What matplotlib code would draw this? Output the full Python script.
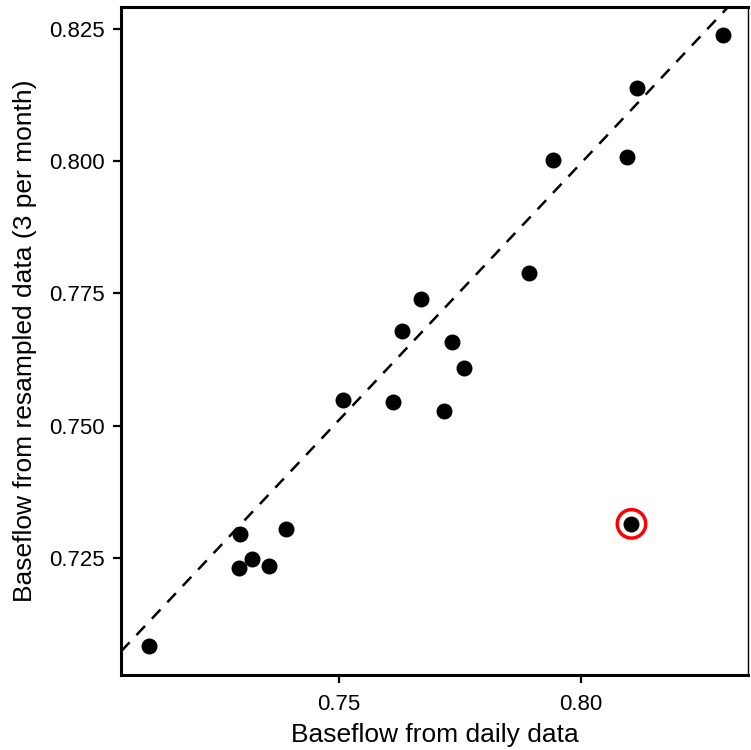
import matplotlib.pyplot as plt

plt.rcParams['font.family'] = ['Liberation Sans', 'DejaVu Sans']

# Baseflow index: daily data vs resampled (3 per month)
daily = [0.7107, 0.7296, 0.7294, 0.7319, 0.7356, 0.7391, 0.7508, 0.7611, 0.7630,
         0.7669, 0.7718, 0.7733, 0.7759, 0.7893, 0.7942, 0.8095, 0.8117, 0.8294, 0.8105]
resampled = [0.7083, 0.7295, 0.7231, 0.7248, 0.7235, 0.7305, 0.7549, 0.7544, 0.7678,
             0.7739, 0.7528, 0.7659, 0.7608, 0.7788, 0.8002, 0.8009, 0.8138, 0.8239, 0.7314]
outlier_x = [0.8105]
outlier_y = [0.7314]

# reference line (intercept, slope)
line_intercept = 0.0228
line_slope = 0.971

xticks = [0.75, 0.80]
yticks = [0.725, 0.750, 0.775, 0.800, 0.825]

fig = plt.figure(figsize=(7.51, 7.5), dpi=100)
ax = fig.add_axes([121 / 751, 1 - 675 / 750, 627 / 751, 668 / 750])

ax.axline((0, line_intercept), slope=line_slope, color='black',
          linestyle=(0, (5, 4)), linewidth=1.8, zorder=1)
ax.scatter(daily, resampled, s=110, color='black', zorder=3)
ax.scatter(outlier_x, outlier_y, s=420, facecolors='none', edgecolors='red', linewidths=2.5, zorder=2)

ax.set_xlim(0.7049, 0.8346)
ax.set_ylim(0.7028, 0.8292)
ax.set_xticks(xticks)
ax.set_xticklabels(['0.75', '0.80'])
ax.set_yticks(yticks)
ax.set_yticklabels(['0.725', '0.750', '0.775', '0.800', '0.825'])
ax.tick_params(labelsize=16, length=6, width=1.6, colors='black')
ax.tick_params(axis='x', pad=7.5)
ax.tick_params(axis='y', pad=5.5)

for side in ['left', 'bottom', 'top']:
    ax.spines[side].set_linewidth(2.2)
ax.spines['right'].set_linewidth(1)

ax.set_xlabel('Baseflow from daily data', fontsize=19, labelpad=6)
ax.set_ylabel('Baseflow from resampled data (3 per month)', fontsize=19, labelpad=9)

fig.savefig('out.png', dpi=100)
